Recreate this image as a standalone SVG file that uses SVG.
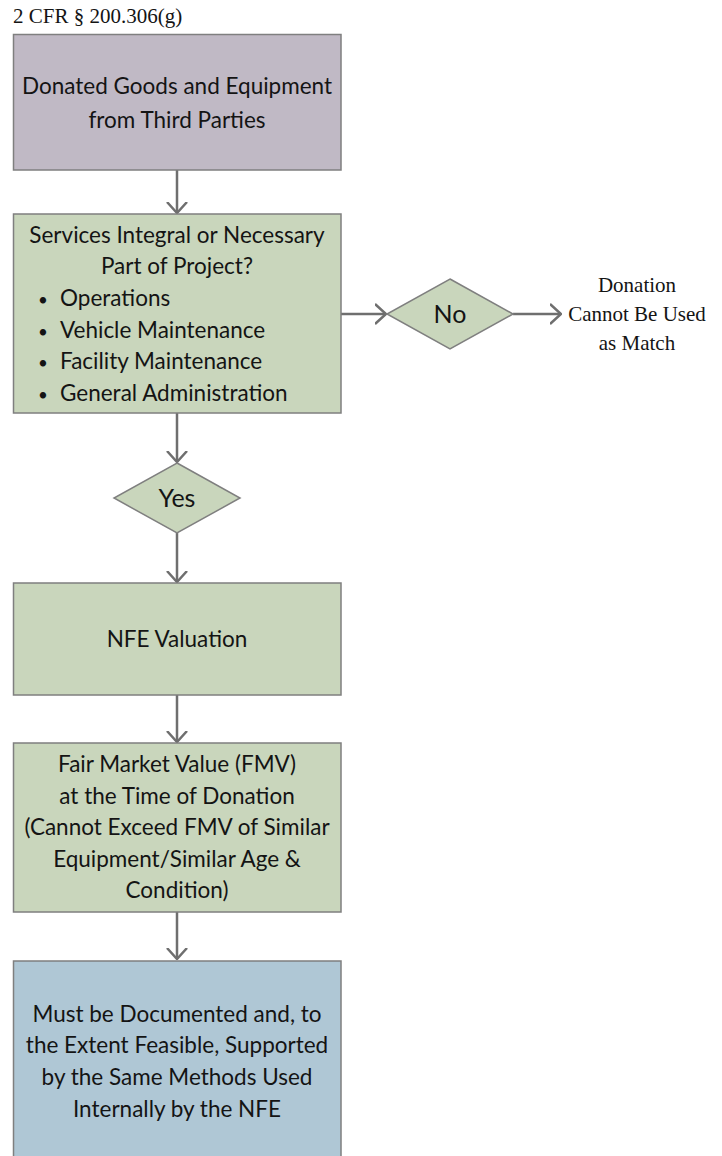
<svg xmlns="http://www.w3.org/2000/svg" width="722" height="1156" viewBox="0 0 722 1156">
  <defs>
    <style>
      .box { stroke: #7f7f7f; stroke-width: 1.5; }
      .purple { fill: #c0b9c5; }
      .green { fill: #c9d6bc; }
      .blue { fill: #afc7d5; }
      .t { font-family: Lato, "Liberation Sans", sans-serif; font-size: 22.5px; fill: #141414; text-anchor: middle; }
      .tl { font-family: Lato, "Liberation Sans", sans-serif; font-size: 22.5px; fill: #141414; }
      .dot { fill: #141414; }
      .dia { font-size: 25px; }
      .serif { font-family: "Liberation Serif", serif; font-size: 21px; fill: #141414; }
      .conn { stroke: #6f6f6f; stroke-width: 2.5; fill: none; }
    </style>
    <marker id="chev" viewBox="0 0 12 22" refX="11" refY="11" markerWidth="12" markerHeight="22" markerUnits="userSpaceOnUse" orient="auto">
      <path d="M0,1 L11,11 L0,21" fill="none" stroke="#6f6f6f" stroke-width="2.5"/>
    </marker>
  </defs>

  <rect width="722" height="1156" fill="#ffffff"/>

  <text class="serif" x="13" y="23">2 CFR § 200.306(g)</text>

  <!-- connectors -->
  <g id="connectors">
    <line class="conn" x1="177" y1="170" x2="177" y2="213" marker-end="url(#chev)"/>
    <line class="conn" x1="177" y1="413" x2="177" y2="462" marker-end="url(#chev)"/>
    <line class="conn" x1="177" y1="533" x2="177" y2="582" marker-end="url(#chev)"/>
    <line class="conn" x1="177" y1="695" x2="177" y2="742" marker-end="url(#chev)"/>
    <line class="conn" x1="177" y1="912" x2="177" y2="959" marker-end="url(#chev)"/>
    <line class="conn" x1="341" y1="314" x2="386" y2="314" marker-end="url(#chev)"/>
    <line class="conn" x1="513" y1="314" x2="561" y2="314" marker-end="url(#chev)"/>
  </g>

  <g id="donated">
    <rect class="box purple" x="13.5" y="34.5" width="327.5" height="135.5"/>
    <text class="t" x="177" y="94">Donated Goods and Equipment</text>
    <text class="t" x="177" y="128">from Third Parties</text>
  </g>

  <g id="services">
    <rect class="box green" x="13.5" y="214" width="327.5" height="199"/>
    <text class="t" x="177" y="243">Services Integral or Necessary</text>
    <text class="t" x="177" y="274">Part of Project?</text>
    <text class="tl" x="38" y="306" style="font-size:17px">•</text>
    <text class="tl" x="60" y="306">Operations</text>
    <text class="tl" x="38" y="337.5" style="font-size:17px">•</text>
    <text class="tl" x="60" y="337.5">Vehicle Maintenance</text>
    <text class="tl" x="38" y="369" style="font-size:17px">•</text>
    <text class="tl" x="60" y="369">Facility Maintenance</text>
    <text class="tl" x="38" y="400.5" style="font-size:17px">•</text>
    <text class="tl" x="60" y="400.5">General Administration</text>
  </g>

  <g id="no">
    <polygon class="box green" points="450,279 513,314 450,349 387,314"/>
    <text class="t dia" x="450" y="323">No</text>
  </g>

  <g id="not-match">
    <text class="serif" x="637" y="292" text-anchor="middle">Donation</text>
    <text class="serif" x="637" y="321" text-anchor="middle">Cannot Be Used</text>
    <text class="serif" x="637" y="350" text-anchor="middle">as Match</text>
  </g>

  <g id="yes">
    <polygon class="box green" points="177,463 240,498 177,533 114,498"/>
    <text class="t dia" x="177" y="507">Yes</text>
  </g>

  <g id="valuation">
    <rect class="box green" x="13.5" y="583" width="327.5" height="112"/>
    <text class="t" x="177" y="647">NFE Valuation</text>
  </g>

  <g id="fmv">
    <rect class="box green" x="13.5" y="743" width="327.5" height="169"/>
    <text class="t" x="177" y="772">Fair Market Value (FMV)</text>
    <text class="t" x="177" y="803.5">at the Time of Donation</text>
    <text class="t" x="177" y="835">(Cannot Exceed FMV of Similar</text>
    <text class="t" x="177" y="866.5">Equipment/Similar Age &amp;</text>
    <text class="t" x="177" y="898">Condition)</text>
  </g>

  <g id="documented">
    <rect class="box blue" x="13.5" y="961" width="327.5" height="205"/>
    <text class="t" x="177" y="1022">Must be Documented and, to</text>
    <text class="t" x="177" y="1053">the Extent Feasible, Supported</text>
    <text class="t" x="177" y="1085">by the Same Methods Used</text>
    <text class="t" x="177" y="1117">Internally by the NFE</text>
  </g>
</svg>
